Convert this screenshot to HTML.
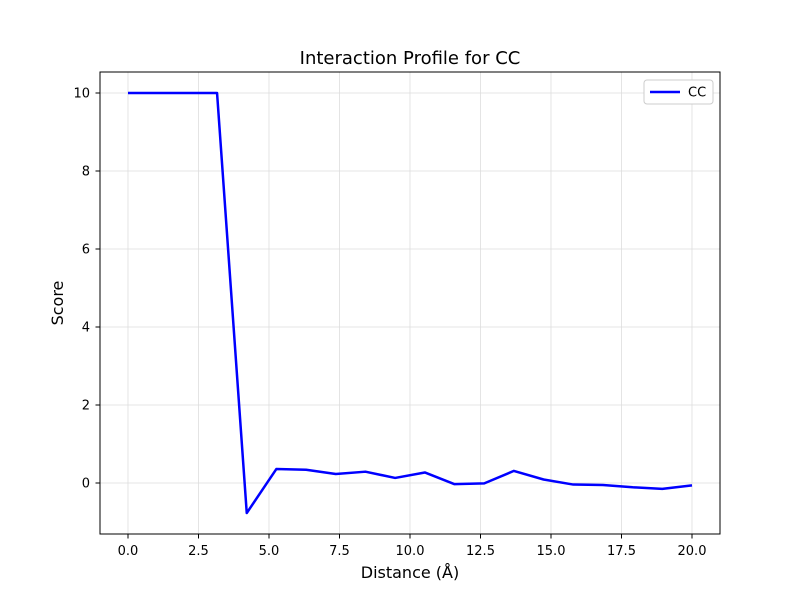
<!DOCTYPE html>
<html><head><meta charset="utf-8"><style>
body{margin:0;background:#fff;font-family:"Liberation Sans","DejaVu Sans",sans-serif}
</style></head><body>
<svg id="chart" width="800" height="600" xmlns="http://www.w3.org/2000/svg" font-family="DejaVu Sans, Liberation Sans, sans-serif">
<rect width="800" height="600" fill="#fff"/>
<g id="grid"></g>
<g id="ticks"></g>
<polyline id="line" fill="none" stroke="#0000ff" stroke-width="2.5" stroke-linejoin="round"/>
<rect x="100" y="72" width="620" height="462" fill="none" stroke="#000" stroke-width="1"/>
<text x="410" y="64" text-anchor="middle" font-size="18">Interaction Profile for CC</text>
<text x="410" y="578" text-anchor="middle" font-size="16">Distance (Å)</text>
<text transform="translate(63,303) rotate(-90)" text-anchor="middle" font-size="16">Score</text>
<g>
<rect x="644" y="80" width="69" height="24" fill="#fff" stroke="#ccc" rx="3"/>
<line x1="650" y1="92" x2="680" y2="92" stroke="#0000ff" stroke-width="2.5"/>
<text x="688" y="96.5" font-size="13">CC</text>
</g>
</svg>
<script>
const xValues=[0,1.053,2.105,3.158,4.211,5.263,6.316,7.368,8.421,9.474,10.526,11.579,12.632,13.684,14.737,15.789,16.842,17.895,18.947,20];
const scores=[10,10,10,10,-0.77,0.36,0.34,0.23,0.29,0.13,0.27,-0.03,-0.01,0.31,0.09,-0.04,-0.05,-0.11,-0.15,-0.06];
const xTicks=[0,2.5,5,7.5,10,12.5,15,17.5,20];
const yTicks=[0,2,4,6,8,10];
const sx=v=>128+v*28.2;
const sy=v=>483-v*39;
const NS="http://www.w3.org/2000/svg";
const grid=document.getElementById('grid'),ticks=document.getElementById('ticks');
function mk(tag,attrs,parent){const e=document.createElementNS(NS,tag);for(const k in attrs)e.setAttribute(k,attrs[k]);parent.appendChild(e);return e;}
xTicks.forEach(t=>{const x=sx(t);
const g=mk('line',{x1:x,x2:x,y1:72,y2:534,stroke:'#ddd','stroke-width':0.8},grid);


mk('line',{x1:x,x2:x,y1:534,y2:538.5,stroke:'#000'},ticks);
const l=mk('text',{x:x,y:555,'text-anchor':'middle','font-size':13},ticks);l.textContent=t.toFixed(1);

});
yTicks.forEach(t=>{const y=sy(t);
const g=mk('line',{x1:100,x2:720,y1:y,y2:y,stroke:'#ddd','stroke-width':0.8},grid);


mk('line',{x1:95.5,x2:100,y1:y,y2:y,stroke:'#000'},ticks);
const l=mk('text',{x:90,y:y+4.5,'text-anchor':'end','font-size':13},ticks);l.textContent=t;

});
document.getElementById('line').setAttribute('points',xValues.map((x,i)=>sx(x)+','+sy(scores[i])).join(' '));
</script>
</body></html>
